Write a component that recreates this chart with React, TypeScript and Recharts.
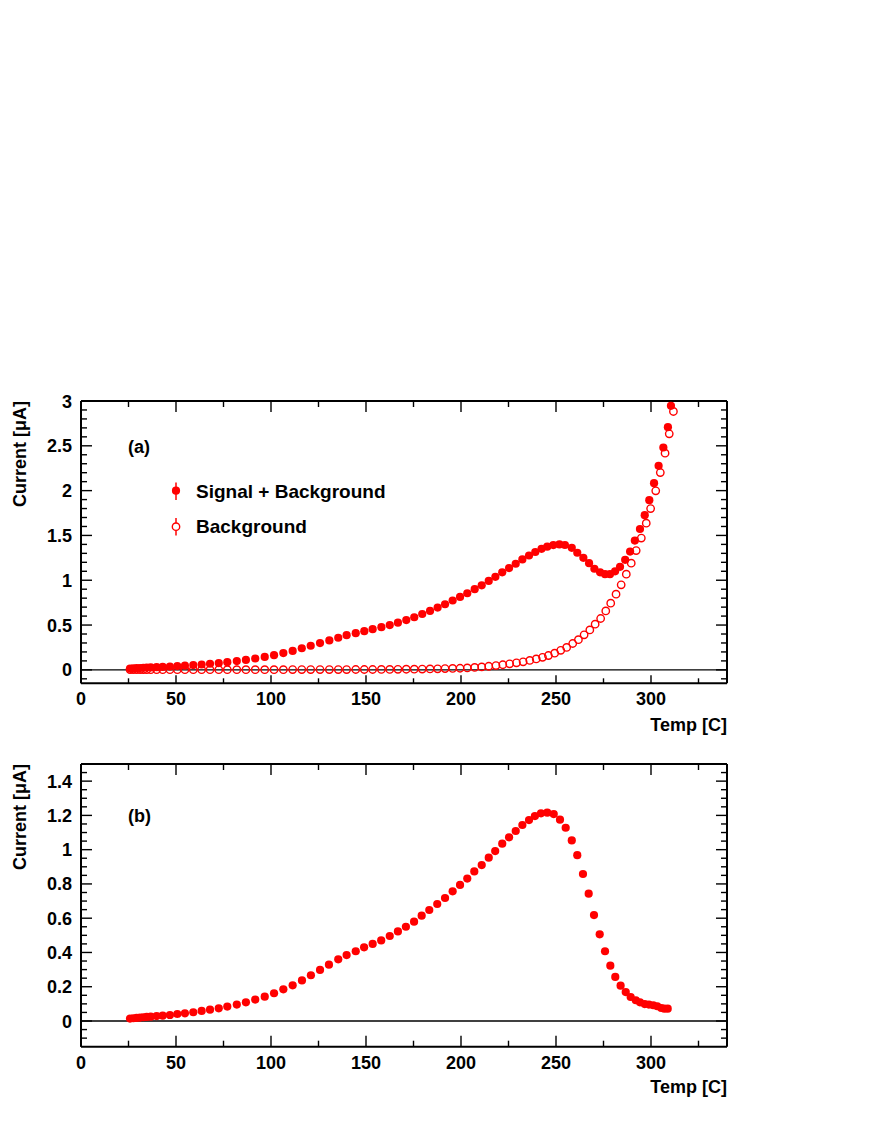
import React from 'react';
import { ScatterChart, Scatter, XAxis, YAxis, ReferenceLine } from 'recharts';

// ---------- data ----------
const sbTemp = [25.8, 27.5, 29.3, 31.1, 32.8, 34.6, 36.7, 39.8, 43.0, 46.8, 50.7, 54.7, 59.1, 63.5, 67.9, 72.5, 77.0, 82.0, 86.8, 91.7, 96.7, 101.6, 106.5, 111.4, 116.2, 120.9, 125.8, 130.7, 135.4, 139.8, 144.6, 149.1, 153.5, 158.1, 162.5, 166.8, 171.2, 175.4, 179.6, 183.7, 187.7, 191.6, 195.6, 199.5, 203.3, 207.2, 210.9, 214.6, 218.1, 221.7, 225.3, 228.8, 232.3, 235.8, 239.1, 242.4, 245.4, 248.6, 251.8, 254.7, 258.3, 261.2, 264.4, 267.4, 270.2, 273.2, 275.8, 278.4, 281.1, 283.7, 286.4, 289.0, 291.5, 294.2, 296.7, 299.1, 301.6, 304.0, 306.5, 308.9, 310.5];
const sbCurrent = [0.015, 0.017, 0.019, 0.021, 0.023, 0.025, 0.027, 0.030, 0.033, 0.037, 0.042, 0.047, 0.053, 0.060, 0.068, 0.076, 0.086, 0.098, 0.111, 0.127, 0.144, 0.164, 0.187, 0.211, 0.241, 0.269, 0.299, 0.328, 0.358, 0.387, 0.409, 0.432, 0.454, 0.476, 0.500, 0.527, 0.556, 0.587, 0.623, 0.658, 0.695, 0.732, 0.774, 0.814, 0.855, 0.900, 0.943, 0.992, 1.038, 1.088, 1.136, 1.184, 1.232, 1.276, 1.315, 1.350, 1.374, 1.392, 1.400, 1.393, 1.362, 1.307, 1.250, 1.190, 1.128, 1.088, 1.068, 1.068, 1.100, 1.150, 1.228, 1.320, 1.443, 1.572, 1.726, 1.893, 2.083, 2.277, 2.481, 2.708, 2.946];

const bgTemp = [25.8, 27.5, 29.3, 31.1, 32.8, 34.6, 36.7, 39.8, 43.0, 46.8, 50.7, 54.7, 59.1, 63.5, 67.9, 72.5, 77.0, 82.0, 86.8, 91.7, 96.7, 101.6, 106.5, 111.4, 116.2, 120.9, 125.8, 130.7, 135.4, 139.8, 144.6, 149.1, 153.5, 158.1, 162.5, 166.8, 171.2, 175.4, 179.6, 183.7, 187.7, 191.6, 195.6, 199.5, 203.3, 207.2, 210.9, 214.6, 218.4, 222.0, 225.6, 229.2, 232.7, 236.2, 239.6, 242.9, 246.0, 249.3, 252.5, 255.6, 258.8, 261.8, 264.8, 267.8, 270.6, 273.5, 276.2, 278.8, 281.6, 284.3, 287.0, 289.6, 292.2, 294.9, 297.5, 299.8, 302.5, 304.9, 307.4, 309.6, 311.8];
const bgCurrent = [0.003, 0.002, 0.002, 0.002, 0.002, 0.002, 0.002, 0.002, 0.002, 0.002, 0.002, 0.002, 0.002, 0.002, 0.002, 0.002, 0.002, 0.002, 0.002, 0.002, 0.002, 0.002, 0.002, 0.003, 0.003, 0.003, 0.003, 0.003, 0.003, 0.003, 0.004, 0.004, 0.004, 0.005, 0.005, 0.006, 0.007, 0.008, 0.009, 0.010, 0.012, 0.014, 0.016, 0.018, 0.022, 0.027, 0.033, 0.040, 0.048, 0.057, 0.067, 0.078, 0.090, 0.105, 0.122, 0.140, 0.160, 0.186, 0.218, 0.250, 0.294, 0.337, 0.391, 0.446, 0.510, 0.573, 0.658, 0.744, 0.845, 0.949, 1.068, 1.190, 1.331, 1.470, 1.637, 1.800, 1.998, 2.202, 2.418, 2.634, 2.883];

const sigTemp = [25.8, 27.5, 29.3, 31.1, 32.8, 34.6, 36.7, 39.8, 43.0, 46.8, 50.7, 54.7, 59.1, 63.5, 67.9, 72.5, 77.0, 82.0, 86.8, 91.7, 96.7, 101.6, 106.5, 111.4, 116.3, 121.0, 125.8, 130.5, 135.4, 139.8, 144.6, 149.0, 153.5, 158.0, 162.5, 166.8, 171.0, 175.3, 179.3, 183.3, 187.5, 191.6, 195.6, 199.5, 203.3, 207.0, 210.9, 214.6, 218.0, 221.7, 225.3, 228.8, 232.3, 235.8, 238.9, 242.1, 245.4, 248.8, 252.1, 255.1, 258.3, 261.2, 264.2, 267.2, 270.0, 273.0, 275.8, 278.6, 281.2, 284.0, 286.7, 289.3, 292.0, 294.2, 296.7, 298.9, 301.2, 303.3, 305.4, 307.0, 308.8];
const sigCurrent = [0.014, 0.016, 0.018, 0.020, 0.022, 0.024, 0.025, 0.029, 0.031, 0.035, 0.041, 0.045, 0.051, 0.059, 0.066, 0.074, 0.084, 0.096, 0.109, 0.125, 0.142, 0.162, 0.185, 0.208, 0.237, 0.267, 0.298, 0.329, 0.360, 0.385, 0.407, 0.430, 0.450, 0.470, 0.496, 0.523, 0.550, 0.580, 0.615, 0.648, 0.683, 0.718, 0.757, 0.794, 0.831, 0.873, 0.910, 0.953, 0.992, 1.035, 1.072, 1.109, 1.144, 1.173, 1.196, 1.212, 1.216, 1.208, 1.175, 1.128, 1.054, 0.968, 0.858, 0.743, 0.618, 0.506, 0.407, 0.323, 0.257, 0.206, 0.169, 0.140, 0.121, 0.109, 0.099, 0.096, 0.092, 0.086, 0.076, 0.072, 0.072];

// axis ticks
const xMajorTicks = [0, 50, 100, 150, 200, 250, 300];
const xMinorTicks = [25, 75, 125, 175, 225, 275, 325];
const yMajorTicksA = [0, 0.5, 1, 1.5, 2, 2.5, 3];
const yMinorTicksA = Array.from({ length: 32 }, (_, i) => (i - 1) / 10).filter(v => !yMajorTicksA.some(m => Math.abs(m - v) < 1e-9));
const yMajorTicksB = [0, 0.2, 0.4, 0.6, 0.8, 1, 1.2, 1.4];
const yMinorTicksB = Array.from({ length: 33 }, (_, i) => (i - 2) / 20).filter(v => !yMajorTicksB.some(m => Math.abs(m - v) < 1e-9));

const xTicks = [...xMajorTicks, ...xMinorTicks].sort((a, b) => a - b);
const yTicksA = [...yMajorTicksA, ...yMinorTicksA].sort((a, b) => a - b);
const yTicksB = [...yMajorTicksB, ...yMinorTicksB].sort((a, b) => a - b);

const sbData = sbTemp.map((t, i) => ({ t, v: sbCurrent[i] }));
const bgData = bgTemp.map((t, i) => ({ t, v: bgCurrent[i] }));
const sigData = sigTemp.map((t, i) => ({ t, v: sigCurrent[i] }));

// ---------- styling ----------
const FONT = "'Liberation Sans', Arial, Helvetica, sans-serif";
const RED = '#ff0000';

const isIn = (arr: number[], v: number) => arr.some(m => Math.abs(m - v) < 1e-9);

const makeXTick = (side: 'bottom' | 'top', majLen: number, minLen: number) => (props: any) => {
  const { x, y, payload } = props;
  const v = payload.value;
  const major = isIn(xMajorTicks, v);
  const len = major ? majLen : minLen;
  const dir = side === 'bottom' ? -1 : 1;
  return (
    <g>
      <line x1={x} x2={x} y1={y} y2={y + dir * len} stroke="#000" strokeWidth={1.4} />
      {side === 'bottom' && major && (
        <text x={x} y={y + 22} textAnchor="middle" fontFamily={FONT} fontWeight="bold" fontSize={18} fill="#000">
          {v}
        </text>
      )}
    </g>
  );
};

const makeYTick = (side: 'left' | 'right', majors: number[]) => (props: any) => {
  const { x, y, payload } = props;
  const v = payload.value;
  const major = isIn(majors, v);
  const len = major ? 11 : 6;
  const dir = side === 'left' ? 1 : -1;
  return (
    <g>
      <line x1={x} x2={x + dir * len} y1={y} y2={y} stroke="#000" strokeWidth={1.4} />
      {side === 'left' && major && (
        <text x={x - 9} y={y + 6.5} textAnchor="end" fontFamily={FONT} fontWeight="bold" fontSize={18} fill="#000">
          {String(v)}
        </text>
      )}
    </g>
  );
};

const filledDot = (p: any) => <circle cx={p.cx} cy={p.cy} r={4.1} fill={RED} />;
const openDot = (p: any) => <circle cx={p.cx} cy={p.cy} r={3.7} fill="none" stroke={RED} strokeWidth={1.4} />;

const axisLine = { stroke: '#000', strokeWidth: 2 };

function Frame(props: { yDomain: [number, number]; yTicks: number[]; yMajors: number[]; bottomMaj: number; bottomMin: number }) {
  const { yDomain, yTicks, yMajors, bottomMaj, bottomMin } = props;
  return [
    <XAxis key="xb" xAxisId="b" type="number" dataKey="t" domain={[0, 340]} ticks={xTicks} interval={0}
      tick={makeXTick('bottom', bottomMaj, bottomMin)} tickLine={false} tickSize={0} tickMargin={0}
      axisLine={axisLine} height={1} allowDataOverflow />,
    <XAxis key="xt" xAxisId="t" orientation="top" type="number" dataKey="t" domain={[0, 340]} ticks={xTicks} interval={0}
      tick={makeXTick('top', 11, 6)} tickLine={false} tickSize={0} tickMargin={0}
      axisLine={axisLine} height={1} allowDataOverflow />,
    <YAxis key="yl" yAxisId="l" type="number" dataKey="v" domain={yDomain} ticks={yTicks} interval={0}
      tick={makeYTick('left', yMajors)} tickLine={false} tickSize={0} tickMargin={0}
      axisLine={axisLine} width={1} allowDataOverflow />,
    <YAxis key="yr" yAxisId="r" orientation="right" type="number" dataKey="v" domain={yDomain} ticks={yTicks} interval={0}
      tick={makeYTick('right', yMajors)} tickLine={false} tickSize={0} tickMargin={0}
      axisLine={axisLine} width={1} allowDataOverflow />,
  ];
}

const textStyle = { fontFamily: FONT, fontWeight: 'bold' as const, fill: '#000' };

export default function App() {
  return (
    <div style={{ position: 'absolute', left: 0, top: 0, width: 872, height: 1128, background: '#fff' }}>
      <div style={{ position: 'absolute', left: 0, top: 0 }}>
        <ScatterChart width={872} height={740} margin={{ top: 400, right: 144, bottom: 55.7, left: 80 }}>
          {Frame({ yDomain: [-0.15, 3], yTicks: yTicksA, yMajors: yMajorTicksA, bottomMaj: 8, bottomMin: 5 })}
          <ReferenceLine xAxisId="b" yAxisId="l" y={0} stroke="#000" strokeWidth={1.4} />
          <Scatter xAxisId="b" yAxisId="l" data={bgData} shape={openDot} isAnimationActive={false} />
          <Scatter xAxisId="b" yAxisId="l" data={sbData} shape={filledDot} isAnimationActive={false} />
        </ScatterChart>
      </div>
      <div style={{ position: 'absolute', left: 0, top: 740 }}>
        <ScatterChart width={872} height={388} margin={{ top: 23, right: 144, bottom: 80.3, left: 80 }}>
          {Frame({ yDomain: [-0.15, 1.5], yTicks: yTicksB, yMajors: yMajorTicksB, bottomMaj: 11, bottomMin: 6 })}
          <ReferenceLine xAxisId="b" yAxisId="l" y={0} stroke="#000" strokeWidth={1.4} />
          <Scatter xAxisId="b" yAxisId="l" data={sigData} shape={filledDot} isAnimationActive={false} />
        </ScatterChart>
      </div>
      <svg width={872} height={1128} style={{ position: 'absolute', left: 0, top: 0, pointerEvents: 'none' }}>
        {/* panel (a) texts */}
        <text transform="translate(25.5,401) rotate(-90)" textAnchor="end" fontSize={18} {...textStyle}>Current [μA]</text>
        <text x={727} y={730.5} textAnchor="end" fontSize={18} {...textStyle}>Temp [C]</text>
        <text x={128} y={453} fontSize={18} {...textStyle}>(a)</text>
        {/* legend */}
        <line x1={176} x2={176} y1={482.5} y2={500} stroke={RED} strokeWidth={1.5} />
        <circle cx={176} cy={490.7} r={4.1} fill={RED} />
        <text x={196} y={498.3} fontSize={19} {...textStyle}>Signal + Background</text>
        <line x1={176} x2={176} y1={518} y2={535.5} stroke={RED} strokeWidth={1.5} />
        <circle cx={176} cy={526.7} r={3.7} fill="#fff" stroke={RED} strokeWidth={1.4} />
        <text x={196} y={533.3} fontSize={19} {...textStyle}>Background</text>
        {/* panel (b) texts */}
        <text transform="translate(25.5,764) rotate(-90)" textAnchor="end" fontSize={18} {...textStyle}>Current [μA]</text>
        <text x={727} y={1092.5} textAnchor="end" fontSize={18} {...textStyle}>Temp [C]</text>
        <text x={128} y={822} fontSize={18} {...textStyle}>(b)</text>
      </svg>
    </div>
  );
}
